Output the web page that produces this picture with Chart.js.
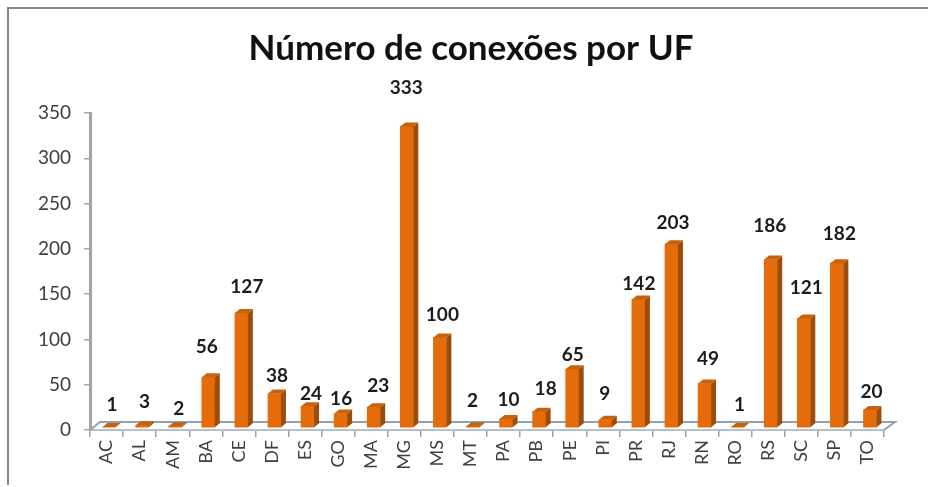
<!DOCTYPE html>
<html>
<head>
<meta charset="utf-8">
<script src="https://cdn.jsdelivr.net/npm/chart.js@4"></script>
<style>
	html, body { margin: 0; padding: 0; background: #fff; }
	#wrap { position: relative; width: 928px; height: 487px; overflow: hidden; }
	#frame { position: absolute; left: 7px; top: 7px; right: 0; bottom: 2px; border-left: 2px solid #858585; border-top: 2px solid #858585; }
	canvas { position: absolute; left: 0; top: 0; }
</style>
</head>
<body>
<div id="wrap">
	<canvas id="chart" width="928" height="487"></canvas>
	<div id="frame"></div>
</div>
<script>
const categories = ["AC", "AL", "AM", "BA", "CE", "DF", "ES", "GO", "MA", "MG", "MS", "MT", "PA", "PB", "PE", "PI", "PR", "RJ", "RN", "RO", "RS", "SC", "SP", "TO"];
const connections = [1, 3, 2, 56, 127, 38, 24, 16, 23, 333, 100, 2, 10, 18, 65, 9, 142, 203, 49, 1, 186, 121, 182, 20];
const yTicks = [0, 50, 100, 150, 200, 250, 300, 350];

// the labels in the original were dragged around by hand, so each one has its own nudge
const labelNudgeX = [5.5, 5, 6, 1, 8, 5, 6, 3, 7, 2, 5, 2, 5, 9, 3, 2, 3, 4, 6, 4.5, 1.5, 5, 5, 4];
const labelNudgeY = [-24, -25, -19, -32, -28, -20, -14, -17, -23, -41, -25, -27, -21, -25, -16, -28, -18, -23, -27, -24, -36, -33, -31, -20];

const FONT = "Lato, 'Open Sans', sans-serif";
const DEPTH_X = 5;
const DEPTH_Y = 4;
const BAR_SHIFT = 2.5;

// floor of the fake 3D box, behind the bars
const floorPlugin = {
	id: "floor",
	beforeDatasetsDraw(chart) {
		const { ctx, chartArea } = chart;
		const { left, right, bottom } = chartArea;
		ctx.save();
		ctx.strokeStyle = "#8ea2b3";
		ctx.lineWidth = 2;
		ctx.beginPath();
		ctx.moveTo(left, bottom);
		ctx.lineTo(left + 10, bottom - 8);
		ctx.lineTo(right + 11, bottom - 8);
		ctx.lineTo(right, bottom);
		ctx.stroke();
		ctx.restore();
	},
};

// side and top faces of the bars, plus the value labels
const barFacesPlugin = {
	id: "barFaces",
	beforeDatasetDraw(chart) {
		chart.ctx.save();
		chart.ctx.translate(BAR_SHIFT, -2);
	},
	afterDatasetDraw(chart, args) {
		const { ctx } = chart;
		args.meta.data.forEach((bar) => {
			const x = bar.x + bar.width / 2;
			const x0 = bar.x - bar.width / 2;
			ctx.fillStyle = "#9c4d0a";
			ctx.beginPath();
			ctx.moveTo(x, bar.y);
			ctx.lineTo(x + DEPTH_X, bar.y - DEPTH_Y);
			ctx.lineTo(x + DEPTH_X, bar.base - DEPTH_Y);
			ctx.lineTo(x, bar.base);
			ctx.fill();
			ctx.fillStyle = "#c8610c";
			ctx.beginPath();
			ctx.moveTo(x0, bar.y);
			ctx.lineTo(x0 + DEPTH_X, bar.y - DEPTH_Y);
			ctx.lineTo(x + DEPTH_X, bar.y - DEPTH_Y);
			ctx.lineTo(x, bar.y);
			ctx.fill();
		});
		ctx.restore();
	},
	afterDraw(chart) {
		const { ctx } = chart;
		const meta = chart.getDatasetMeta(0);
		ctx.save();
		ctx.font = "bold 19px " + FONT;
		ctx.fillStyle = "#1c1c1c";
		ctx.textAlign = "center";
		ctx.textBaseline = "middle";
		meta.data.forEach((bar, i) => {
			ctx.fillText(String(connections[i]), bar.x + labelNudgeX[i], bar.y + labelNudgeY[i]);
		});
		ctx.restore();
	},
};

new Chart(document.getElementById("chart").getContext("2d"), {
	type: "bar",
	data: {
		labels: categories,
		datasets: [
			{
				label: "Número de conexões",
				data: connections,
				backgroundColor: "#e46c0a",
				borderWidth: 0,
				barThickness: 13,
			},
		],
	},
	options: {
		responsive: false,
		animation: false,
		layout: {
			padding: { left: 14, right: 0, top: 0, bottom: 0 },
		},
		plugins: {
			legend: { display: false },
			tooltip: { enabled: false },
			title: {
				display: true,
				text: "Número de conexões por UF",
				color: "#111",
				font: { family: FONT, size: 35, weight: "bold", lineHeight: 1.2 },
				padding: { top: 28, bottom: 43 },
			},
		},
		scales: {
			x: {
				afterFit(scale) {
					scale.height = 57;
				},
				border: { color: "#b4c0cb", width: 2 },
				grid: { drawOnChartArea: false, color: "#94a3b0", tickLength: 7, lineWidth: 1.5 },
				ticks: {
					minRotation: 90,
					maxRotation: 90,
					autoSkip: false,
					padding: 3,
					color: "#404040",
					font: { family: FONT, size: 18 },
				},
			},
			y: {
				min: 0,
				max: 350,
				afterFit(scale) {
					scale.width = 76;
				},
				afterBuildTicks(scale) {
					scale.ticks = yTicks.map((value) => ({ value }));
				},
				border: { color: "#a4a4a4", width: 3 },
				grid: { drawOnChartArea: false, color: "#a4a4a4", tickLength: 6, lineWidth: 1.5 },
				ticks: {
					padding: 13,
					color: "#404040",
					font: { family: FONT, size: 19 },
				},
			},
			// empty axis that only keeps the right margin, so the title stays centred where it was
			spacer: {
				position: "right",
				min: 0,
				max: 350,
				afterFit(scale) {
					scale.width = 44;
				},
				border: { display: false },
				grid: { display: false },
				ticks: { display: false },
			},
		},
	},
	plugins: [floorPlugin, barFacesPlugin],
});
</script>
</body>
</html>
